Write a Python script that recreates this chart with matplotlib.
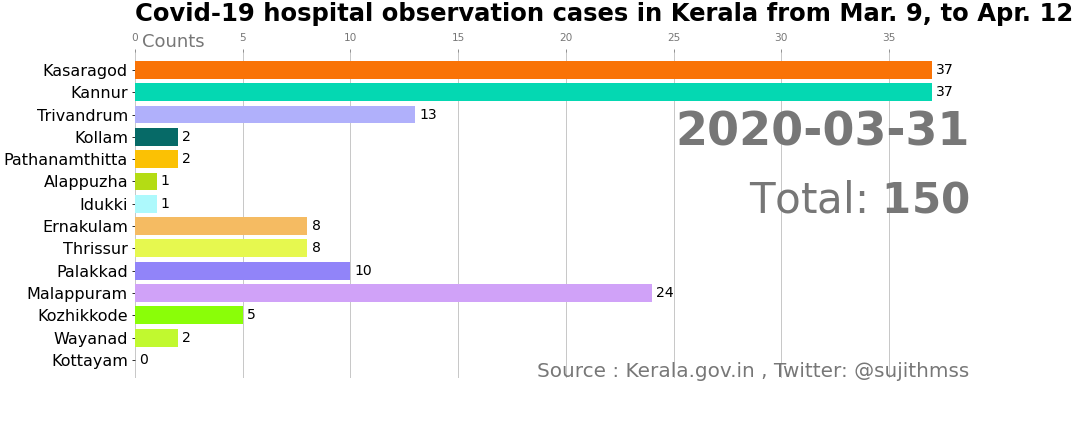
import matplotlib
matplotlib.use("Agg")
import matplotlib.pyplot as plt

districts = ["Kasaragod", "Kannur", "Trivandrum", "Kollam", "Pathanamthitta",
             "Alappuzha", "Idukki", "Ernakulam", "Thrissur", "Palakkad",
             "Malappuram", "Kozhikkode", "Wayanad", "Kottayam"]
counts = [37, 37, 13, 2, 2, 1, 1, 8, 8, 10, 24, 5, 2, 0]
bar_colors = ["#f97306", "#04d8b2", "#b0b0fb", "#066a67", "#fbc104",
              "#b4dc14", "#adf9fc", "#f5bb62", "#e6f84f", "#9184f9",
              "#d0a2f8", "#8afe08", "#c1f92f", "#ffffff"]
date_label = "2020-03-31"
total = 150

fig = plt.figure(figsize=(15, 6), dpi=72)
ax = fig.add_axes([0.125, 0.125, 0.775, 0.755])

pos = list(range(len(districts)))
ax.barh(pos, counts, color=bar_colors, height=0.8)

for p, v in zip(pos, counts):
    ax.text(v + 0.2, p, str(v), size=14, va="center", ha="left", color="black")

ax.set_yticks(pos)
ax.set_yticklabels(districts, size=16)
ax.set_ylim(len(districts) - 1 + 0.81, -0.81)
ax.set_xlim(0, max(counts) * 1.05)

ax.xaxis.set_ticks_position("top")
ax.tick_params(axis="x", colors="#777777", labelsize=10.5, pad=5)
ax.grid(which="major", axis="x", linestyle="-", color="#bbbbbb")
ax.set_axisbelow(True)
for s in ax.spines.values():
    s.set_visible(False)

ax.text(0.008, 1.03, "Counts", transform=ax.transAxes, size=18, color="#777777",
        va="center", ha="left")
ax.set_title("Covid-19 hospital observation cases in Kerala from Mar. 9, to Apr. 12",
             loc="left", size=24.2, weight="bold", pad=31)

ax.text(0.997, 0.75, date_label, transform=ax.transAxes, color="#777777",
        size=46, weight="bold", ha="right", va="center")
ax.text(0.997, 0.545, r"Total: $\mathbf{%d}$" % total, transform=ax.transAxes,
        color="#777777", size=42, ha="right", va="center")
ax.text(0.997, 0.02, "Source : Kerala.gov.in , Twitter: @sujithmss",
        transform=ax.transAxes, color="#777777", size=20, ha="right", va="center")

fig.savefig("out.png", dpi=72)
